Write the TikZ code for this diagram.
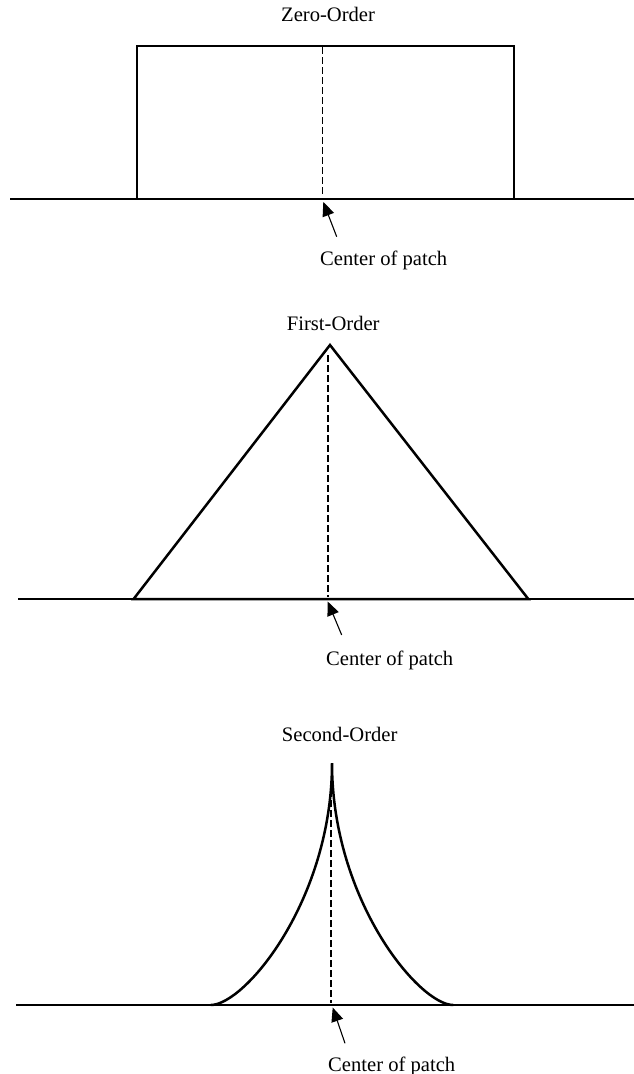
\documentclass[tikz,border=0pt]{standalone}
\usepackage{fontspec}
\setmainfont{Liberation Serif}
\usetikzlibrary{arrows.meta}
\begin{document}
\begin{tikzpicture}[x=1pt,y=-1pt,
  ground/.style={line width=1.2pt},
  shapeline/.style={line width=2.5pt, line join=miter},
  centerline/.style={line width=1.4pt, dash pattern=on 6.5pt off 3.5pt},
  pointer/.style={line width=1.1pt, -{Triangle[length=14pt,width=12pt]}},
  title/.style={anchor=base west, inner sep=0pt, font=\fontsize{20.6}{24}\selectfont},
  lbl/.style={anchor=base west, inner sep=0pt, font=\fontsize{20.6}{24}\selectfont}]
\useasboundingbox (0,0) rectangle (634,1074);

% ---------- Zero-Order ----------
\node[title] (t0) at (281,21.7) {Zero-Order};
\coordinate (g0l) at (10,199);
\coordinate (g0r) at (634,199);
\draw[ground] (g0l) -- (g0r);
\draw[shapeline] (137,199) rectangle (514,46);
\coordinate (c0top) at (322.7,47);
\coordinate (c0bot) at (322.7,195);
\draw[centerline] (c0top) -- (c0bot);
\node[lbl] (l0) at (320,265) {Center of patch};
\coordinate (a0tail) at (336.7,236.7);
\coordinate (a0tip) at (323.3,202);
\draw[pointer] (a0tail) -- (a0tip);

% ---------- First-Order ----------
\node[title] (t1) at (286.7,330) {First-Order};
\coordinate (g1l) at (18,599);
\coordinate (g1r) at (634,599);
\draw[ground] (g1l) -- (g1r);
\draw[shapeline] (133.6,599) -- (330,345) -- (528.3,599) -- cycle;
\coordinate (c1top) at (328,355);
\coordinate (c1bot) at (328,597);
\draw[centerline] (c1top) -- (c1bot);
\node[lbl] (l1) at (326,665) {Center of patch};
\coordinate (a1tail) at (341.7,635);
\coordinate (a1tip) at (327.7,601.5);
\draw[pointer] (a1tail) -- (a1tip);

% ---------- Second-Order ----------
\node[title] (t2) at (281.7,741.7) {Second-Order};
\coordinate (g2l) at (16,1005);
\coordinate (g2r) at (634,1005);
\draw[ground] (g2l) -- (g2r);
\coordinate (s2l) at (210.7,1005);
\coordinate (s2p) at (332,763);
\coordinate (s2r) at (453.3,1005);
\draw[shapeline, line cap=butt]
  (s2l) .. controls (245,1005) and (332,900) .. (s2p)
        .. controls (332,900) and (419,1005) .. (s2r);
\coordinate (c2top) at (331,790);
\coordinate (c2bot) at (331,1003);
\draw[centerline] (c2top) -- (c2bot);
\node[lbl] (l2) at (328,1071.7) {Center of patch};
\coordinate (a2tail) at (345,1043.3);
\coordinate (a2tip) at (332.7,1007.5);
\draw[pointer] (a2tail) -- (a2tip);
\end{tikzpicture}
\end{document}
